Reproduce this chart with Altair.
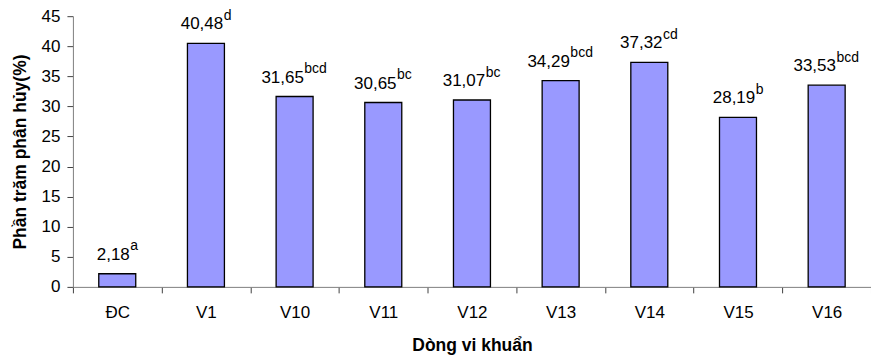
import altair as alt
import pandas as pd

# Decomposition percentage per bacterial strain, with significance groups
strains = ["ĐC", "V1", "V10", "V11", "V12", "V13", "V14", "V15", "V16"]
percent = [2.18, 40.48, 31.65, 30.65, 31.07, 34.29, 37.32, 28.19, 33.53]
groups = ["a", "d", "bcd", "bc", "bc", "bcd", "cd", "b", "bcd"]
y_ticks = [0, 5, 10, 15, 20, 25, 30, 35, 40, 45]

df = pd.DataFrame({"strain": strains, "percent": percent, "group": groups})
df["label"] = [f"{v:.2f}".replace(".", ",") for v in percent]

FONT = "Liberation Sans"
AXIS_GREY = "#808080"

x_enc = alt.X(
    "strain:N",
    sort=strains,
    title="Dòng vi khuẩn",
    scale=alt.Scale(paddingInner=0, paddingOuter=0),
    axis=alt.Axis(
        labelAngle=0,
        tickBand="extent",
        labelFont=FONT,
        labelFontSize=17,
        labelColor="black",
        labelPadding=12,
        tickSize=6,
        tickColor="#404040",
        domainColor=AXIS_GREY,
        titleFont=FONT,
        titleFontSize=17.5,
        titleFontWeight="bold",
        titleColor="black",
        titlePadding=16,
    ),
)

y_enc = alt.Y(
    "percent:Q",
    title="Phần trăm phân hủy(%)",
    scale=alt.Scale(domain=[0, 45], nice=False),
    axis=alt.Axis(
        values=y_ticks,
        labelOverlap=False,
        grid=False,
        labelFont=FONT,
        labelFontSize=17,
        labelColor="black",
        labelPadding=7,
        tickSize=6,
        tickColor="#404040",
        domainColor=AXIS_GREY,
        titleFont=FONT,
        titleFontSize=17.5,
        titleFontWeight="bold",
        titleColor="black",
        titlePadding=12,
    ),
)

bars = alt.Chart(df).mark_bar(
    width=alt.RelativeBandSize(0.417),
    color="#9999FF",
    stroke="black",
    strokeWidth=1.3,
).encode(x=x_enc, y=y_enc)

# value label, shifted left so that value + superscript is centred on the bar
values_text = alt.Chart(df).mark_text(
    font=FONT,
    fontSize=17,
    baseline="alphabetic",
    align="center",
    dy=-14,
    dx=alt.ExprRef(expr="-length(datum.group) * 4"),
    color="black",
).encode(x=x_enc, y=y_enc, text="label:N")

# significance letters as superscript after the value
group_text = alt.Chart(df).mark_text(
    font=FONT,
    fontSize=14,
    baseline="alphabetic",
    align="left",
    dy=-23.5,
    dx=alt.ExprRef(expr="(length(datum.label) * 9.45 - 4.75) / 2 - length(datum.group) * 4 + 0.5"),
    color="black",
).encode(x=x_enc, y=y_enc, text="group:N")

chart = (
    alt.layer(bars, values_text, group_text)
    .properties(
        width=799,
        height=271,
        autosize=alt.AutoSizeParams(type="none"),
        padding={"left": 73, "top": 16, "right": 0, "bottom": 70},
        background="white",
    )
    .configure_view(stroke=None)
)

chart.save("out.html", embed_options={"renderer": "svg", "actions": False})
